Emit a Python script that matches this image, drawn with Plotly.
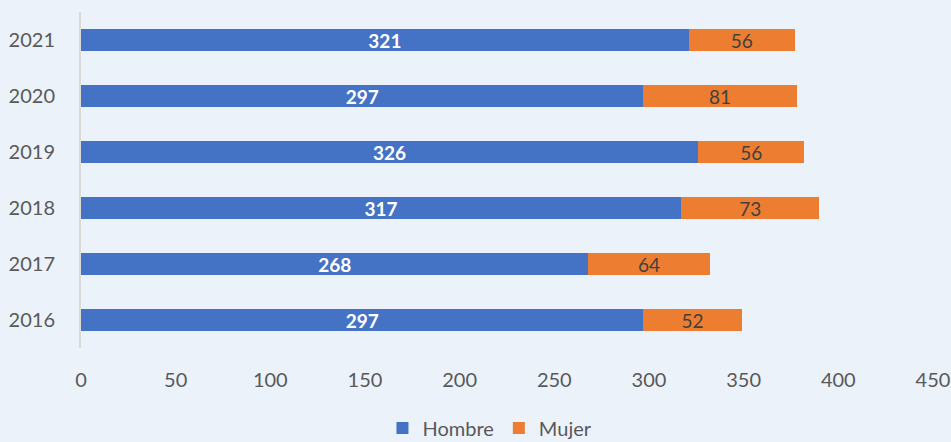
import plotly.graph_objects as go

years = ["2016", "2017", "2018", "2019", "2020", "2021"]
hombre = [297, 268, 317, 326, 297, 321]
mujer = [52, 64, 73, 56, 81, 56]
x_ticks = [0, 50, 100, 150, 200, 250, 300, 350, 400, 450]

bg = "#ECF2FA"
font_family = "Lato, Open Sans, sans-serif"

fig = go.Figure()
fig.add_trace(go.Bar(
    y=years, x=hombre, name="Hombre", orientation="h",
    marker=dict(color="#4472C4", line=dict(width=0)),
    text=hombre, textposition="inside", insidetextanchor="middle",
    textangle=0, constraintext="none",
    textfont=dict(color="white", size=19, family=font_family, weight="bold"),
))
fig.add_trace(go.Bar(
    y=years, x=mujer, name="Mujer", orientation="h",
    marker=dict(color="#ED7D31", line=dict(width=0)),
    text=mujer, textposition="inside", insidetextanchor="middle",
    textangle=0, constraintext="none",
    textfont=dict(color="#404040", size=19, family=font_family),
))

fig.update_layout(
    barmode="stack",
    bargap=0.6,
    width=951, height=442,
    margin=dict(l=81, r=18, t=12, b=94, autoexpand=False),
    paper_bgcolor=bg, plot_bgcolor=bg,
    font=dict(family=font_family, size=19, color="#595959"),
    showlegend=True,
    legend=dict(orientation="h", x=0.48, xanchor="center", y=-0.18, yanchor="top",
                font=dict(size=20, color="#595959"), traceorder="normal",
                itemwidth=30, tracegroupgap=0),
    xaxis=dict(range=[0, 450], tickvals=x_ticks, showgrid=False, zeroline=False,
               showline=False, ticks="", automargin=False, ticklabelstandoff=18,
               tickfont=dict(size=20, color="#595959")),
    yaxis=dict(showgrid=False, zeroline=False, showline=True, linecolor="#D9D9D9",
               linewidth=2, ticks="", ticklabelstandoff=20, automargin=False,
               tickfont=dict(size=20, color="#595959")),
    uniformtext=dict(mode="show", minsize=10),
)

fig.write_html("out.html", config={"displayModeBar": False},
               post_script="document.body.style.margin='0';document.body.style.background='%s';" % bg)
